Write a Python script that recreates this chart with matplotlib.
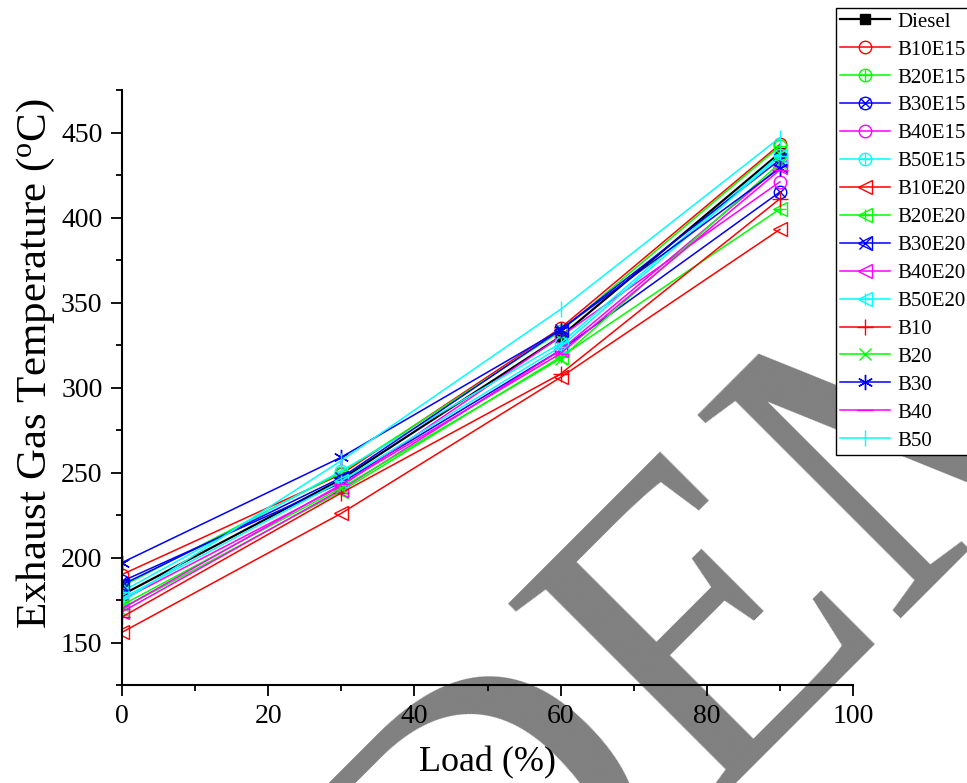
import matplotlib
matplotlib.use('Agg')
import matplotlib.pyplot as plt
from matplotlib.legend_handler import HandlerTuple
from matplotlib.ticker import MultipleLocator

plt.rcParams['font.family'] = ['Liberation Serif', 'DejaVu Serif']
plt.rcParams['mathtext.fontset'] = 'custom'
plt.rcParams['mathtext.rm'] = 'Liberation Serif'
plt.rcParams['mathtext.it'] = 'Liberation Serif:italic'

# ---- data ----
load = [0, 30, 60, 90]
diesel = [178, 246, 330, 438]
b10e15 = [190, 249, 335, 443]
b20e15 = [183, 250, 333, 442]
b30e15 = [186, 244, 322, 415]
b40e15 = [175, 242, 330, 421]
b50e15 = [180, 251, 326, 437]
b10e20 = [156, 226, 306, 393]
b20e20 = [170, 239, 318, 405]
b30e20 = [184, 247, 334, 434]
b40e20 = [168, 240, 322, 430]
b50e20 = [176, 245, 324, 436]
b10 = [165, 238, 308, 411]
b20 = [172, 241, 317, 432]
b30 = [197, 259, 334, 429]
b40 = [170, 243, 320, 428]
b50 = [174, 257, 346, 447]

labels = ['Diesel', 'B10E15', 'B20E15', 'B30E15', 'B40E15', 'B50E15',
          'B10E20', 'B20E20', 'B30E20', 'B40E20', 'B50E20',
          'B10', 'B20', 'B30', 'B40', 'B50']
series = [diesel, b10e15, b20e15, b30e15, b40e15, b50e15,
          b10e20, b20e20, b30e20, b40e20, b50e20,
          b10, b20, b30, b40, b50]

RED, GREEN, BLUE, MAG, CYAN = '#FF0000', '#00FF00', '#0000FF', '#FF00FF', '#00FFFF'
ASTER = (6, 2, 0)
# (color, main marker, main size, overlay marker, overlay size, filled)
styles = [
    ('black', 's', 6.5, None, 0, True),
    (RED, 'o', 9, None, 0, False),
    (GREEN, 'o', 9, '+', 9, False),
    (BLUE, 'o', 9, 'x', 6.5, False),
    (MAG, 'o', 9, None, 0, False),
    (CYAN, 'o', 9, '+', 9, False),
    (RED, '<', 10, None, 0, False),
    (GREEN, '<', 10, '+', 8, False),
    (BLUE, '<', 10, 'x', 8, False),
    (MAG, '<', 10, None, 0, False),
    (CYAN, '<', 10, '+', 8, False),
    (RED, '+', 11, None, 0, False),
    (GREEN, 'x', 9, None, 0, False),
    (BLUE, ASTER, 11, None, 0, False),
    (MAG, '_', 11, None, 0, False),
    (CYAN, '|', 11, None, 0, False),
]

fig = plt.figure(figsize=(9.67, 7.83), dpi=100)
ax = fig.add_axes([122/967, 1-685/783, (853-122)/967, (685-90)/783])
ax.set_facecolor('none')

# watermark
fig.text(0.964, 0.2657, 'DEMO', rotation=45, rotation_mode='anchor',
         ha='center', va='baseline', fontsize=315, color='#808080',
         family='Liberation Serif', zorder=-1)

handles = []
for lab, vals, (c, m, ms, m2, ms2, filled) in zip(labels, series, styles):
    lw = 1.6 if c == 'black' else 1.1
    fc = c if filled else 'none'
    l1, = ax.plot(load, vals, color=c, lw=lw, marker=m, ms=ms,
                  mfc=fc, mec=c, mew=1.0)
    if m2 is not None:
        l2, = ax.plot(load, vals, color=c, lw=0, marker=m2, ms=ms2,
                      mec=c, mew=1.0, linestyle='none')
        handles.append((l1, l2))
    else:
        handles.append(l1)

ax.set_xlim(0, 100)
ax.set_ylim(125, 475)
ax.xaxis.set_major_locator(MultipleLocator(20))
ax.xaxis.set_minor_locator(MultipleLocator(10))
ax.yaxis.set_major_locator(MultipleLocator(50))
ax.yaxis.set_minor_locator(MultipleLocator(25))
for s in ['top', 'right']:
    ax.spines[s].set_visible(False)
for s in ['left', 'bottom']:
    ax.spines[s].set_linewidth(1.5)
ax.tick_params(which='major', direction='out', length=8, width=1.3,
               labelsize=20, pad=6)
ax.tick_params(which='minor', direction='out', length=4, width=1.3)

ax.set_xlabel('Load (%)', fontsize=26, labelpad=12)
ax.set_ylabel('Exhaust Gas Temperature ($^{\\mathrm{o}}$C)', fontsize=31)
ax.yaxis.set_label_coords(-0.089, 0.5395)

leg = ax.legend(handles, labels, loc='upper left',
                bbox_to_anchor=(836/967, 1-8/783), bbox_transform=fig.transFigure,
                frameon=True, fancybox=False, edgecolor='black', framealpha=1,
                fontsize=15, handlelength=2.4, handletextpad=0.35,
                borderpad=0.2, labelspacing=0.40, borderaxespad=0,
                handler_map={tuple: HandlerTuple(ndivide=1)})
leg.get_frame().set_linewidth(1.0)

fig.savefig('out.png', dpi=100)
